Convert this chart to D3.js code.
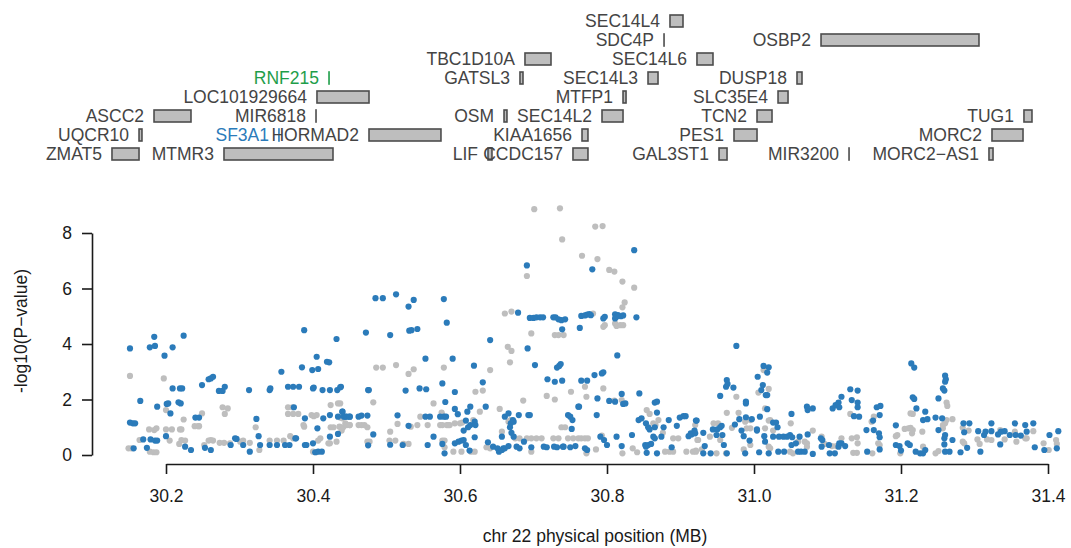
<!DOCTYPE html>
<html>
<head>
<meta charset="utf-8">
<script src="https://cdn.jsdelivr.net/npm/d3@7"></script>
<style>
  body { margin: 0; background: #fff; }
  svg { display: block; font-family: "Liberation Sans", Arial, sans-serif; }
</style>
</head>
<body>
<svg id="chart" width="1071" height="548"></svg>
<script>
// gene track (positions in MB, row 0 = bottom row)
const geneNames = ["ZMAT5", "MTMR3", "LIF", "CCDC157", "GAL3ST1", "MIR3200", "MORC2\u2212AS1",
  "UQCR10", "SF3A1", "HORMAD2", "KIAA1656", "PES1", "MORC2",
  "ASCC2", "MIR6818", "OSM", "SEC14L2", "TCN2", "TUG1",
  "LOC101929664", "MTFP1", "SLC35E4",
  "RNF215", "GATSL3", "SEC14L3", "DUSP18",
  "TBC1D10A", "SEC14L6",
  "SDC4P", "OSBP2",
  "SEC14L4"];
const geneStart = [30.1265, 30.2789, 30.6381, 30.7537, 30.9524, 31.1293, 31.3197,
  30.1633, 30.3537, 30.4762, 30.7660, 30.9728, 31.3238,
  30.1837, 30.4041, 30.6599, 30.7932, 31.0041, 31.3673,
  30.4054, 30.8218, 31.0327,
  30.4218, 30.6816, 30.8558, 31.0585,
  30.6884, 30.9224,
  30.8776, 31.0912,
  30.8857];
const geneEnd = [30.1633, 30.4272, 30.6435, 30.7741, 30.9633, 31.1293, 31.3252,
  30.1673, 30.3537, 30.5741, 30.7741, 31.0041, 31.3660,
  30.2340, 30.4041, 30.6639, 30.8218, 31.0245, 31.3782,
  30.4762, 30.8259, 31.0463,
  30.4218, 30.6857, 30.8694, 31.0653,
  30.7238, 30.9442,
  30.8776, 31.3061,
  30.9034];
const geneRow = [0, 0, 0, 0, 0, 0, 0,
  1, 1, 1, 1, 1, 1,
  2, 2, 2, 2, 2, 2,
  3, 3, 3,
  4, 4, 4, 4,
  5, 5,
  6, 6,
  7];

const xTicks = [30.2, 30.4, 30.6, 30.8, 31.0, 31.2, 31.4];
const yTicks = [0, 2, 4, 6, 8];

// SNPs: [position MB, -log10(P)]
const graySnps = [
  [30.151,2.85],[30.149,0.24],[30.153,0.24],[30.164,0.54],[30.177,0.92],[30.184,0.9],[30.187,0.96],[30.178,0.12],[30.183,0.1],[30.187,0.1],
  [30.197,2.76],[30.2,1.62],[30.2,0.92],[30.205,0.52],[30.208,0.92],[30.218,0.4],[30.219,0.92],[30.221,0.92],[30.224,1.28],[30.221,0.54],
  [30.226,0.52],[30.239,1.04],[30.244,1.04],[30.245,1.04],[30.249,1.5],[30.252,0.36],[30.258,0.52],[30.261,0.54],[30.264,0.52],[30.273,0.44],
  [30.279,0.44],[30.28,1.48],[30.277,1.72],[30.284,1.68],[30.287,0.42],[30.301,0.48],[30.305,0.52],[30.314,0.44],[30.322,1.0],[30.327,0.18],
  [30.341,0.52],[30.351,0.52],[30.36,0.52],[30.366,1.72],[30.372,1.72],[30.366,1.48],[30.373,1.48],[30.38,1.48],[30.369,0.68],[30.373,0.6],
  [30.387,1.08],[30.388,1.02],[30.398,1.44],[30.401,1.4],[30.405,1.44],[30.4,0.12],[30.404,0.1],[30.407,0.52],[30.41,0.6],[30.421,0.42],
  [30.423,0.42],[30.424,1.8],[30.424,1.0],[30.428,1.0],[30.432,0.48],[30.434,1.86],[30.436,1.02],[30.441,1.0],[30.439,0.88],[30.45,1.08],
  [30.462,1.08],
  [30.701,8.86],[30.736,8.89],[30.739,7.77],[30.784,8.23],[30.794,8.25],[30.766,7.18],[30.787,7.06],[30.803,6.67],[30.81,6.61],[30.821,6.25],
  [30.837,6.03],[30.824,5.5],[30.821,5.32],[30.691,6.45],[30.661,5.1],[30.67,5.17],[30.697,4.38],[30.729,4.32],[30.734,4.32],[30.741,4.32],
  [30.795,4.62],[30.797,4.68],[30.811,4.74],[30.813,4.65],[30.818,4.68],[30.822,4.68],[30.781,5.1],[30.665,3.9],[30.67,3.75],[30.668,3.34],
  [30.641,3.06],[30.486,3.15],[30.495,3.15],[30.513,3.24],[30.53,2.92],[30.537,3.09],[30.578,3.15],[30.631,2.32],[30.686,1.96],[30.718,2.13],
  [30.729,2.0],[30.751,2.28],[30.77,2.46],[30.772,2.1],[30.795,2.4],[30.482,1.9],[30.437,1.86],[30.437,1.35],[30.44,1.32],[30.444,1.14],
  [30.446,1.08],[30.45,1.08],[30.466,1.08],[30.47,1.08],[30.474,1.0],[30.505,0.84],[30.515,1.12],[30.474,0.48],[30.477,0.48],[30.504,0.52],
  [30.512,0.52],[30.523,0.4],[30.53,0.4],[30.533,1.02],[30.546,1.38],[30.542,1.08],[30.556,1.08],[30.564,1.86],[30.575,1.53],[30.576,1.44],
  [30.573,1.08],[30.576,1.08],[30.582,1.08],[30.584,1.08],[30.576,0.52],[30.579,0.52],[30.586,1.08],[30.593,1.14],[30.6,1.14],[30.603,1.17],
  [30.579,0.28],[30.591,0.12],[30.602,0.12],[30.615,0.12],[30.62,0.12],[30.618,1.26],[30.621,2.28],[30.627,1.56],[30.636,0.28],[30.641,0.24],
  [30.654,1.66],[30.657,0.84],[30.666,1.2],[30.669,1.26],[30.675,0.6],[30.681,0.6],[30.691,0.6],[30.697,0.6],[30.704,0.6],[30.711,0.6],
  [30.727,0.6],[30.734,0.6],[30.697,0.12],[30.738,1.0],[30.743,1.0],[30.747,0.6],[30.754,0.6],[30.761,0.6],[30.765,0.6],[30.77,0.6],
  [30.774,0.6],[30.772,0.06],[30.785,0.2],[30.793,0.7],[30.81,1.96],[30.82,1.98],[30.821,0.06],[30.835,0.24],[30.841,0.1],[30.854,1.62],
  [30.858,1.48],[30.863,1.14],[30.866,1.08],[30.87,1.26],[30.876,0.8],[30.879,0.12],[30.885,0.12],[30.89,0.12],[30.89,0.6],[30.897,0.6],
  [30.908,0.12],[30.921,0.12],[30.924,0.54],
  [30.976,2.1],[30.963,1.52],[30.979,1.52],[30.988,1.2],[30.995,1.26],[31.006,2.25],[31.013,3.06],[31.02,2.38],[31.015,1.68],[31.02,1.24],
  [31.022,1.26],[30.92,1.08],[30.945,1.14],[30.951,1.14],[30.923,0.54],[30.929,0.2],[30.917,0.12],[30.921,0.16],[30.94,0.66],[30.954,0.54],
  [30.949,0.06],[30.962,0.06],[30.97,0.98],[30.99,0.96],[30.995,0.96],[30.986,0.2],[30.995,0.36],[31.02,0.3],[31.022,0.24],[31.015,0.96],
  [31.05,1.14],[31.026,0.88],[31.049,0.12],[31.053,0.06],[31.06,0.48],[31.069,0.48],[31.072,0.42],[31.08,0.88],[31.072,0.3],[31.092,0.66],
  [31.096,0.4],[31.106,0.32],[31.112,0.32],[31.119,0.6],[31.131,1.48],[31.133,0.6],[31.14,0.64],[31.141,0.42],[31.135,0.08],[31.14,0.08],
  [31.16,1.2],[31.163,1.38],[31.161,0.06],[31.169,0.42],[31.171,0.36],[31.193,0.68],[31.195,0.72],[31.199,0.06],[31.205,0.94],[31.21,0.96],
  [31.213,0.98],[31.216,0.9],[31.215,0.78],[31.216,1.48],[31.213,1.5],[31.229,0.84],[31.23,0.3],[31.247,0.06],[31.251,0.14],[31.257,1.08],
  [31.26,1.14],[31.262,1.26],[31.257,0.96],[31.262,1.89],[31.263,1.77],[31.27,1.29],[31.284,0.98],[31.292,0.88],[31.286,0.42],[31.284,0.48],
  [31.304,0.56],[31.307,0.4],[31.317,0.56],[31.323,0.54],[31.335,0.9],[31.341,0.56],[31.355,0.84],[31.357,0.48],[31.369,0.6],[31.371,0.6],
  [31.38,0.86],[31.394,0.42],[31.401,0.18],[31.411,0.54],[31.412,0.4]
];

const blueSnps = [
  [30.151,3.84],[30.151,1.17],[30.155,1.14],[30.158,1.14],[30.156,0.24],[30.165,1.95],[30.169,0.56],[30.174,0.26],[30.178,3.88],[30.179,0.56],
  [30.184,4.26],[30.185,3.93],[30.185,0.52],[30.188,0.52],[30.188,1.74],[30.198,3.58],[30.2,0.68],[30.201,1.84],[30.203,1.86],[30.206,1.5],
  [30.209,3.88],[30.209,2.4],[30.217,1.9],[30.22,1.86],[30.219,2.4],[30.222,2.4],[30.224,4.3],[30.226,0.3],[30.234,0.18],[30.24,1.35],
  [30.245,1.35],[30.249,2.52],[30.253,0.26],[30.258,2.73],[30.261,2.76],[30.264,2.82],[30.261,0.18],[30.272,2.31],[30.277,2.31],[30.28,2.46],
  [30.288,0.36],[30.294,0.6],[30.296,0.58],[30.305,0.36],[30.313,2.34],[30.314,0.12],[30.323,1.3],[30.326,0.68],[30.328,0.36],[30.341,2.34],
  [30.342,2.4],[30.341,0.36],[30.351,0.36],[30.357,3.0],[30.362,0.36],[30.368,0.36],[30.366,2.46],[30.373,2.46],[30.381,2.46],[30.374,1.72],
  [30.376,0.6],[30.377,0.6],[30.385,3.16],[30.388,4.5],[30.389,1.32],[30.389,0.36],[30.391,0.36],[30.399,3.06],[30.4,2.4],[30.401,2.43],
  [30.4,0.42],[30.405,3.54],[30.406,0.96],[30.407,3.1],[30.403,0.1],[30.407,0.12],[30.412,0.12],[30.413,2.34],[30.414,1.32],[30.419,3.36],
  [30.422,3.34],[30.423,1.44],[30.423,2.34],[30.423,0.66],[30.432,4.18],[30.433,2.34],[30.434,1.38],[30.434,0.76],[30.438,2.46],[30.44,1.56],
  [30.442,1.38],[30.45,1.38],[30.462,1.38],
  [30.485,5.65],[30.495,5.65],[30.513,5.79],[30.53,5.35],[30.537,5.59],[30.578,5.62],[30.582,4.77],[30.472,4.41],[30.505,4.32],[30.531,4.48],
  [30.534,4.5],[30.542,4.54],[30.553,3.47],[30.59,3.47],[30.437,2.44],[30.475,2.34],[30.476,2.34],[30.526,2.32],[30.545,2.4],[30.554,2.37],
  [30.576,2.58],[30.593,2.27],[30.619,3.22],[30.631,2.62],[30.641,4.14],[30.691,6.83],[30.679,5.13],[30.695,4.94],[30.7,4.94],[30.704,4.96],
  [30.709,4.96],[30.713,4.96],[30.727,4.96],[30.73,4.96],[30.734,4.89],[30.738,4.86],[30.743,4.89],[30.739,4.53],[30.692,3.84],[30.702,3.24],
  [30.732,3.15],[30.735,3.21],[30.737,3.28],[30.763,4.58],[30.765,5.01],[30.77,5.03],[30.773,5.06],[30.776,5.08],[30.778,5.04],[30.78,6.69],
  [30.795,4.92],[30.797,4.98],[30.811,5.07],[30.815,5.04],[30.819,5.0],[30.822,5.03],[30.811,4.92],[30.813,4.98],[30.837,7.38],[30.84,4.96],
  [30.814,3.59],[30.719,2.73],[30.729,2.64],[30.739,2.68],[30.765,2.68],[30.773,2.68],[30.783,2.88],[30.793,2.94],[30.795,2.98],[30.787,2.04],
  [30.803,1.95],[30.811,1.92],[30.82,2.2],[30.822,1.84],[30.825,1.86],[30.844,2.22],[30.761,1.74],[30.786,1.44],
  [30.44,1.56],[30.444,1.38],[30.446,1.38],[30.45,1.38],[30.466,1.42],[30.474,1.42],[30.482,0.74],[30.475,0.35],[30.505,0.37],[30.515,1.43],
  [30.522,0.36],[30.53,1.05],[30.553,1.38],[30.559,1.38],[30.556,0.36],[30.564,0.66],[30.573,1.38],[30.578,1.38],[30.581,1.38],[30.58,1.91],
  [30.576,0.4],[30.579,0.06],[30.593,1.66],[30.597,1.47],[30.593,0.42],[30.598,0.48],[30.602,0.52],[30.605,0.54],[30.608,1.24],[30.61,1.56],
  [30.614,1.74],[30.611,1.0],[30.614,1.08],[30.605,0.88],[30.608,0.36],[30.613,0.16],[30.62,1.2],[30.621,1.08],[30.62,0.64],[30.635,1.74],
  [30.638,0.46],[30.645,0.3],[30.651,0.24],[30.653,0.12],[30.657,0.18],[30.659,0.24],[30.661,0.24],[30.666,0.32],[30.657,0.66],[30.661,1.38],
  [30.666,1.5],[30.669,1.14],[30.672,1.26],[30.673,1.2],[30.67,0.8],[30.673,0.66],[30.668,1.0],[30.677,0.3],[30.681,0.24],[30.68,1.44],
  [30.693,1.44],[30.695,1.44],[30.687,0.48],[30.697,0.28],[30.714,0.3],[30.718,0.28],[30.728,0.3],[30.732,0.28],[30.74,0.3],[30.741,0.3],
  [30.75,0.28],[30.747,1.44],[30.75,1.38],[30.752,0.94],[30.753,1.26],[30.762,1.74],[30.757,0.32],[30.77,0.24],[30.773,0.18],[30.791,0.66],
  [30.796,0.54],[30.8,0.36],[30.813,0.66],[30.82,0.32],[30.834,0.72],[30.843,1.26],[30.847,1.32],[30.852,0.36],[30.853,0.3],[30.853,1.14],
  [30.856,1.0],[30.858,0.92],[30.865,1.89],[30.868,1.92],[30.868,1.53],[30.865,1.0],[30.863,0.66],[30.865,0.6],[30.856,0.36],[30.86,0.4],
  [30.874,0.66],[30.877,1.0],[30.884,1.26],[30.895,1.05],[30.899,1.35],[30.904,1.4],[30.907,1.4],[30.911,0.68],[30.914,0.78],[30.921,1.24],
  [30.919,0.88],[30.888,0.28],[30.868,0.06],[30.854,0.08],
  [30.976,3.93],[31.013,3.21],[31.02,3.16],[31.018,2.97],[31.005,2.82],[30.963,2.7],[30.962,2.46],[30.964,2.56],[30.972,2.43],[30.954,2.13],
  [30.989,1.92],[30.989,1.86],[31.012,2.52],[31.016,2.16],[31.018,2.16],[31.01,2.34],[31.018,1.65],[31.008,1.38],[30.922,1.24],[30.915,0.74],
  [30.92,0.78],[30.931,0.8],[30.933,0.32],[30.931,0.06],[30.941,0.06],[30.963,0.06],[30.944,0.92],[30.95,0.92],[30.954,1.0],[30.956,1.05],
  [30.949,0.72],[30.957,0.72],[30.959,0.36],[30.974,1.1],[30.98,1.29],[30.983,0.88],[30.989,1.36],[30.997,1.29],[30.986,0.68],[30.994,0.52],
  [30.988,0.06],[31.004,0.92],[31.004,0.88],[31.014,0.68],[31.015,0.48],[31.007,0.1],[31.02,0.06],[31.026,1.17],[31.03,1.17],[31.032,1.0],
  [31.026,0.66],[31.034,0.66],[31.04,0.66],[31.045,0.66],[31.049,0.72],[31.033,0.12],[31.041,0.12],[31.051,1.48],[31.052,0.64],[31.051,0.36],
  [31.057,0.42],[31.062,0.66],[31.06,0.12],[31.064,0.12],[31.069,0.12],[31.072,1.74],[31.073,1.62],[31.08,1.68],[31.073,0.74],[31.08,0.04],
  [31.091,0.6],[31.093,0.54],[31.092,0.3],[31.102,0.36],[31.103,0.06],[31.11,0.06],[31.107,1.68],[31.111,1.8],[31.115,1.89],[31.119,2.1],
  [31.116,1.72],[31.115,0.3],[31.116,0.42],[31.119,0.42],[31.124,0.32],[31.131,2.37],[31.133,1.98],[31.141,2.32],[31.141,1.89],[31.141,1.72],
  [31.136,1.4],[31.143,1.38],[31.153,0.9],[31.154,0.12],[31.162,1.24],[31.163,0.9],[31.167,1.72],[31.172,1.77],[31.171,1.44],[31.17,0.78],
  [31.171,0.64],[31.171,0.2],[31.193,1.07],[31.193,0.36],[31.198,0.32],[31.2,0.16],[31.209,0.42],[31.212,0.36],[31.214,3.3],[31.218,3.15],
  [31.216,2.08],[31.218,2.02],[31.221,1.68],[31.23,1.26],[31.236,1.29],[31.233,1.56],[31.22,0.12],[31.226,0.06],[31.23,0.06],[31.233,0.18],
  [31.247,1.35],[31.251,2.04],[31.251,0.9],[31.256,1.32],[31.257,2.4],[31.259,2.32],[31.26,2.64],[31.261,2.73],[31.26,2.86],[31.259,0.38],
  [31.259,0.6],[31.26,0.12],[31.266,0.12],[31.26,0.72],[31.27,0.54],[31.281,0.1],[31.285,1.14],[31.286,0.82],[31.293,1.14],[31.29,0.26],
  [31.305,0.86],[31.308,0.12],[31.313,0.72],[31.315,0.84],[31.323,1.14],[31.323,0.86],[31.332,0.74],[31.336,0.84],[31.341,0.86],[31.335,0.38],
  [31.348,0.72],[31.355,1.14],[31.356,0.72],[31.363,0.7],[31.369,1.08],[31.371,0.84],[31.38,1.14],[31.382,0.28],[31.395,0.18],[31.402,0.72],
  [31.414,0.86],[31.412,0.24]
];

const blue = "#2b7bba";
const gray = "#bebebe";
const geneColors = { RNF215: "#1f9e4a", SF3A1: blue };
const font = "17.5px";

const svg = d3.select("svg#chart");

const x = d3.scaleLinear().domain([30.2, 31.4]).range([166, 1048]);
const y = d3.scaleLinear().domain([0, 8]).range([455, 233]);
const row = d3.scaleLinear().domain([0, 7]).range([154, 21]);
const boxH = 12;

// gene track
const genes = svg.append("g").attr("id", "genes");
geneNames.forEach(function (name, i) {
  const col = geneColors[name] || "#4d4d4d";
  const x0 = x(geneStart[i]);
  const w = Math.max(x(geneEnd[i]) - x0, 0.01);
  const yc = row(geneRow[i]);

  genes.append("text")
    .attr("x", x0 - 10)
    .attr("y", yc)
    .attr("dy", "0.36em")
    .attr("text-anchor", "end")
    .style("font-size", font)
    .attr("fill", geneColors[name] || "#444")
    .text(name);

  genes.append("rect")
    .attr("x", x0)
    .attr("y", yc - boxH / 2)
    .attr("width", w)
    .attr("height", boxH)
    .attr("fill", gray)
    .attr("stroke", col)
    .attr("stroke-width", 1.6);
});

// points
const pts = svg.append("g").attr("id", "points");
pts.selectAll("circle.gray")
  .data(graySnps)
  .join("circle")
  .attr("class", "gray")
  .attr("cx", d => x(d[0]))
  .attr("cy", d => y(d[1]))
  .attr("r", 3.1)
  .attr("fill", gray);

pts.selectAll("circle.blue")
  .data(blueSnps)
  .join("circle")
  .attr("class", "blue")
  .attr("cx", d => x(d[0]))
  .attr("cy", d => y(d[1]))
  .attr("r", 3.1)
  .attr("fill", blue);

// axes
const xAxis = svg.append("g")
  .attr("transform", "translate(0,464)")
  .call(d3.axisBottom(x).tickValues(xTicks).tickFormat(d3.format(".1f"))
    .tickSize(10).tickSizeOuter(0).tickPadding(16));

const yAxis = svg.append("g")
  .attr("transform", "translate(92,0)")
  .call(d3.axisLeft(y).tickValues(yTicks).tickSize(10).tickSizeOuter(0).tickPadding(10));

[xAxis, yAxis].forEach(function (a) {
  a.attr("color", "#1a1a1a")
    .attr("font-size", null)
    .attr("font-family", null);
  a.selectAll("path, line").attr("stroke-width", 1.6);
  a.selectAll("text").style("font-size", font).attr("fill", "#1a1a1a");
});

svg.append("text")
  .attr("x", 595)
  .attr("y", 536)
  .attr("dy", "0.36em")
  .attr("text-anchor", "middle")
  .style("font-size", font)
  .attr("fill", "#1a1a1a")
  .text("chr 22 physical position (MB)");

svg.append("text")
  .attr("transform", "translate(21,331) rotate(-90)")
  .attr("dy", "0.36em")
  .attr("text-anchor", "middle")
  .style("font-size", font)
  .attr("fill", "#1a1a1a")
  .text("-log10(P\u2212value)");
</script>
</body>
</html>
